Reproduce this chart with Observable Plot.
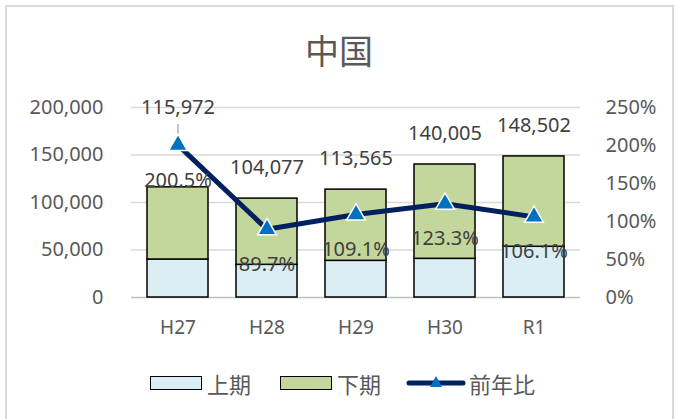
<!DOCTYPE html>
<html>
<head>
<meta charset="utf-8">
<script src="https://cdn.jsdelivr.net/npm/d3@7"></script>
<script src="https://cdn.jsdelivr.net/npm/@observablehq/plot@0.6"></script>
<style>
  html, body { margin: 0; padding: 0; background: #fff; }
  body { width: 678px; height: 419px; overflow: hidden; position: relative;
         font-family: "Noto Sans", "Noto Sans CJK JP", sans-serif; }
  #frame { position: absolute; left: 5px; top: 5px; width: 669px; height: 430px;
           border: 2px solid #d9d9d9; box-sizing: border-box; }
  #title { position: absolute; left: 0; width: 678px; top: 26px; text-align: center;
           font-family: "Noto Sans CJK JP", sans-serif;
           font-size: 34px; color: #595959; line-height: 48px; }
  #chart { position: absolute; left: 0; top: 0; }
  .leg { position: absolute; top: 368px; font-size: 22px; color: #595959; line-height: 30px;
         font-family: "Noto Sans CJK JP", sans-serif; }
  .sw { position: absolute; top: 376px; width: 50px; height: 12px; border: 1.5px solid #000; box-sizing: content-box; }
</style>
</head>
<body>
<div id="frame"></div>
<div id="chart"></div>
<div id="title">中国</div>
<div id="legend"></div>
<script>
const categories = ["H27", "H28", "H29", "H30", "R1"];
const totals = [115972, 104077, 113565, 140005, 148502];
const firstHalf = [40000, 34400, 38600, 40700, 53400];
const ratio = [200.5, 89.7, 109.1, 123.3, 106.1];
const seriesNames = ["上期", "下期", "前年比"];
const seriesColors = ["#DAEEF3", "#C3D69B", "#002060"];
const markerColor = "#0070C0";
const leftTicks = [0, 50000, 100000, 150000, 200000];
const rightTicks = [0, 50, 100, 150, 200, 250];

const yMax = 200000;
const pctMax = 250;
const k = yMax / pctMax; // percent -> left-axis units

const barRows = [];
categories.forEach((c, i) => {
  barRows.push({cat: c, period: seriesNames[0], value: firstHalf[i]});
  barRows.push({cat: c, period: seriesNames[1], value: totals[i] - firstHalf[i]});
});
const pts = categories.map((c, i) => ({cat: c, total: totals[i], ratio: ratio[i]}));

const chart = Plot.plot({
  width: 678,
  height: 419,
  marginTop: 107,
  marginBottom: 122,
  marginLeft: 131,
  marginRight: 98,
  style: {fontFamily: '"Noto Sans", "Noto Sans CJK JP", sans-serif', fontSize: "20px", color: "#595959", background: "transparent"},
  x: {domain: categories, paddingInner: 0.32, paddingOuter: 0.16, label: null},
  y: {domain: [0, yMax], label: null},
  color: {domain: seriesNames.slice(0, 2), range: seriesColors.slice(0, 2)},
  marks: [
    Plot.ruleY(leftTicks.slice(1), {stroke: "#d9d9d9", strokeWidth: 1.3}),
    Plot.ruleY([0], {stroke: "#bfbfbf", strokeWidth: 1.5}),
    Plot.barY(barRows, {x: "cat", y: "value", fill: "period", stroke: "#000", strokeWidth: 1.5}),
    Plot.axisY(leftTicks, {anchor: "left", tickSize: 0, tickPadding: 28, tickFormat: d3.format(","), fontSize: 20}),
    Plot.axisY(rightTicks.map(p => p * k), {anchor: "right", tickSize: 0, tickPadding: 25, tickFormat: d => Math.round(d / k) + "%", fontSize: 20}),
    Plot.axisX({tickSize: 0, tickPadding: 23, fontSize: 19}),
    Plot.ruleX(pts.slice(0, 1), {x: "cat", y1: d => yMax * 0.91, y2: d => d.ratio * k, stroke: "#a6a6a6", strokeWidth: 1.3}),
    Plot.line(pts, {x: "cat", y: d => d.ratio * k, stroke: seriesColors[2], strokeWidth: 5}),
    Plot.dot(pts, {x: "cat", y: d => d.ratio * k, symbol: "triangle", r: 7, fill: markerColor, stroke: "#fff", strokeWidth: 1.5}),
    Plot.text(pts, {x: "cat", y: d => d.ratio * k, text: d => d.ratio.toFixed(1) + "%", dy: 35, fontSize: 20, fill: "#404040"}),
    Plot.text(pts.slice(1), {x: "cat", y: "total", text: d => d3.format(",")(d.total), dy: -31, fontSize: 20, fill: "#404040"}),
    Plot.text(pts.slice(0, 1), {x: "cat", y: "total", text: d => d3.format(",")(d.total), dy: -80, fontSize: 20, fill: "#404040"})
  ]
});
document.getElementById("chart").appendChild(chart);

// legend
const legend = document.getElementById("legend");
legend.innerHTML = `
  <div class="sw" style="left:150px;background:${seriesColors[0]}"></div>
  <div class="leg" style="left:207px">${seriesNames[0]}</div>
  <div class="sw" style="left:280px;background:${seriesColors[1]}"></div>
  <div class="leg" style="left:337px">${seriesNames[1]}</div>
  <svg style="position:absolute;left:405px;top:372px" width="64" height="22">
    <line x1="4" y1="11" x2="58" y2="11" stroke="${seriesColors[2]}" stroke-width="5" stroke-linecap="round"/>
    <path d="M31,4 L37,15 L25,15 Z" fill="${markerColor}"/>
  </svg>
  <div class="leg" style="left:469px">${seriesNames[2]}</div>`;
</script>
</body>
</html>
